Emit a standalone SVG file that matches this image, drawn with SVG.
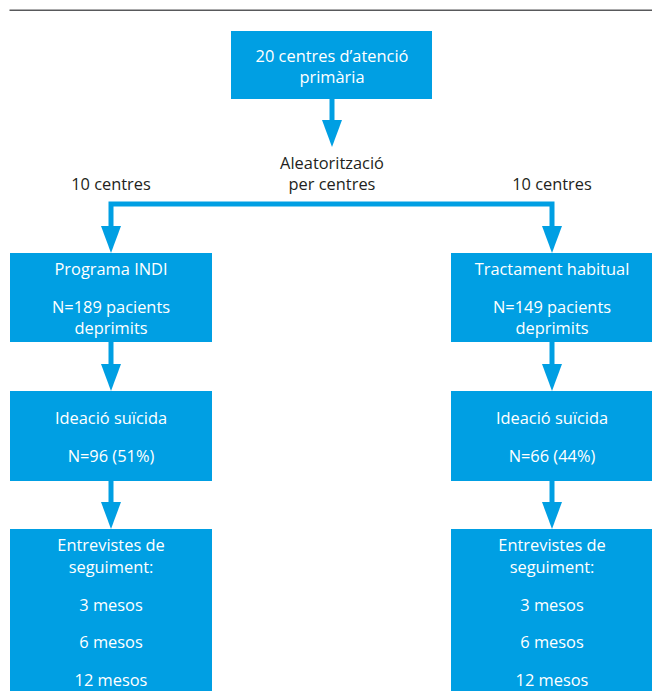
<svg xmlns="http://www.w3.org/2000/svg" width="652" height="691" viewBox="0 0 652 691">
<style>
.box{fill:#009fe3}
.t{font-family:"Open Sans","Noto Sans",sans-serif;font-size:16.4px;text-anchor:middle}
.w{fill:#ffffff}
.d{fill:#231f20}
.sh{stroke:#009fe3;stroke-width:5;fill:none}
.hd{fill:#009fe3}
</style>
<rect width="652" height="691" fill="#ffffff"/>
<line x1="9.5" y1="10.3" x2="652" y2="10.3" stroke="#58595b" stroke-width="1.4"/>
<g id="connectors">
<line class="sh" x1="332" y1="98" x2="332" y2="121"/>
<polygon class="hd" points="322,120 342,120 332,147"/>
<polyline class="sh" points="111,227 111,204 552,204 552,227"/>
<polygon class="hd" points="101,226 121,226 111,253"/>
<polygon class="hd" points="542,226 562,226 552,253"/>
<line class="sh" x1="111" y1="341" x2="111" y2="365"/>
<polygon class="hd" points="101,364 121,364 111,391"/>
<line class="sh" x1="552" y1="341" x2="552" y2="365"/>
<polygon class="hd" points="542,364 562,364 552,391"/>
<line class="sh" x1="111" y1="480" x2="111" y2="503"/>
<polygon class="hd" points="101,502 121,502 111,529"/>
<line class="sh" x1="552" y1="480" x2="552" y2="503"/>
<polygon class="hd" points="542,502 562,502 552,529"/>
</g>
<g id="labels">
<text class="t d" x="332" y="169">Aleatorització</text>
<text class="t d" x="332" y="190">per centres</text>
<text class="t d" x="111" y="190">10 centres</text>
<text class="t d" x="552" y="190">10 centres</text>
</g>
<g id="node-top">
<rect class="box" x="231" y="31" width="201" height="68"/>
<text class="t w" x="332" y="61.5">20 centres d’atenció</text>
<text class="t w" x="332" y="83">primària</text>
</g>
<g id="node-indi">
<rect class="box" x="10" y="253" width="202" height="89"/>
<text class="t w" x="111" y="275">Programa INDI</text>
<text class="t w" x="111" y="313">N=189 pacients</text>
<text class="t w" x="111" y="334">deprimits</text>
</g>
<g id="node-habitual">
<rect class="box" x="451" y="253" width="201" height="89"/>
<text class="t w" x="552" y="275">Tractament habitual</text>
<text class="t w" x="552" y="313">N=149 pacients</text>
<text class="t w" x="552" y="334">deprimits</text>
</g>
<g id="node-ideacio-left">
<rect class="box" x="10" y="391" width="202" height="90"/>
<text class="t w" x="111" y="424">Ideació suïcida</text>
<text class="t w" x="111" y="462">N=96 (51%)</text>
</g>
<g id="node-ideacio-right">
<rect class="box" x="451" y="391" width="201" height="90"/>
<text class="t w" x="552" y="424">Ideació suïcida</text>
<text class="t w" x="552" y="462">N=66 (44%)</text>
</g>
<g id="node-entrevistes-left">
<rect class="box" x="10" y="529" width="202" height="162"/>
<text class="t w" x="111" y="551">Entrevistes de</text>
<text class="t w" x="111" y="573">seguiment:</text>
<text class="t w" x="111" y="611">3 mesos</text>
<text class="t w" x="111" y="648">6 mesos</text>
<text class="t w" x="111" y="686">12 mesos</text>
</g>
<g id="node-entrevistes-right">
<rect class="box" x="451" y="529" width="201" height="162"/>
<text class="t w" x="552" y="551">Entrevistes de</text>
<text class="t w" x="552" y="573">seguiment:</text>
<text class="t w" x="552" y="611">3 mesos</text>
<text class="t w" x="552" y="648">6 mesos</text>
<text class="t w" x="552" y="686">12 mesos</text>
</g>
</svg>
